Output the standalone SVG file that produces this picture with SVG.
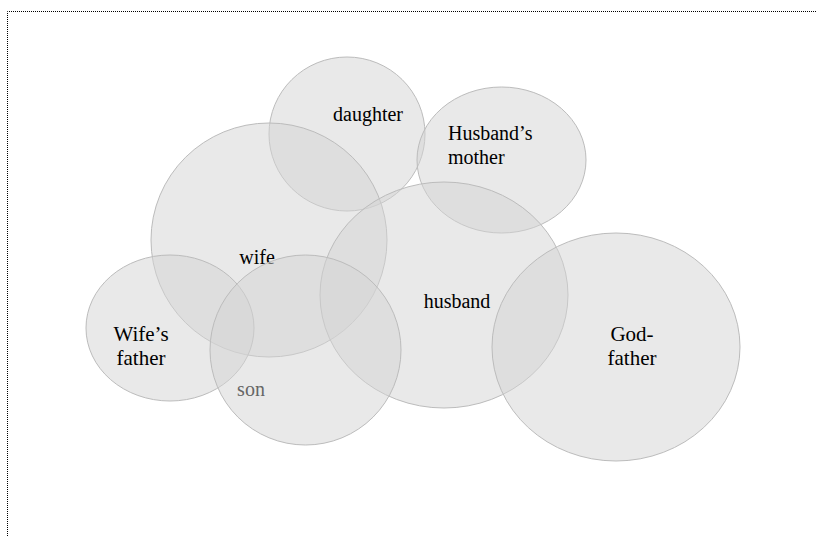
<svg xmlns="http://www.w3.org/2000/svg" width="816" height="537" viewBox="0 0 816 537">
<style>
.c{fill:#d3d3d3;fill-opacity:0.5;stroke:#bcbcbc;stroke-width:1}
.t{font-family:"Liberation Serif","Times New Roman",serif;font-size:20px;fill:#000;text-anchor:middle}
.l{text-anchor:start}
.g{fill:#666}
.b{fill:none;stroke:#000;stroke-width:1;stroke-dasharray:1 1}
</style>
<rect width="816" height="537" fill="#fff"/>
<path class="b" d="M7.5 538 V11.5 H816"/>
<g id="daughter"><ellipse class="c" cx="347" cy="134" rx="78" ry="77"/><text class="t" x="368" y="121">daughter</text></g>
<g id="husbands-mother"><ellipse class="c" cx="501.5" cy="160" rx="84.5" ry="73"/><text class="t l" x="448" y="140">Husband’s</text><text class="t l" x="448" y="164">mother</text></g>
<g id="wife"><ellipse class="c" cx="269" cy="240" rx="118" ry="117"/><text class="t" x="257" y="264">wife</text></g>
<g id="husband"><ellipse class="c" cx="444" cy="295" rx="124" ry="113"/><text class="t" x="457" y="308">husband</text></g>
<g id="wifes-father"><ellipse class="c" cx="170" cy="328" rx="84" ry="73"/><text class="t" x="141" y="341" style="font-size:21px">Wife’s</text><text class="t" x="141" y="365" style="font-size:21px">father</text></g>
<g id="son"><ellipse class="c" cx="305.5" cy="350" rx="95.5" ry="95"/><text class="t g" x="251" y="396">son</text></g>
<g id="godfather"><ellipse class="c" cx="616" cy="347" rx="124" ry="114"/><text class="t" x="632" y="341" style="font-size:21px">God-</text><text class="t" x="632" y="365" style="font-size:21px">father</text></g>
<g id="connectors"/>
</svg>
